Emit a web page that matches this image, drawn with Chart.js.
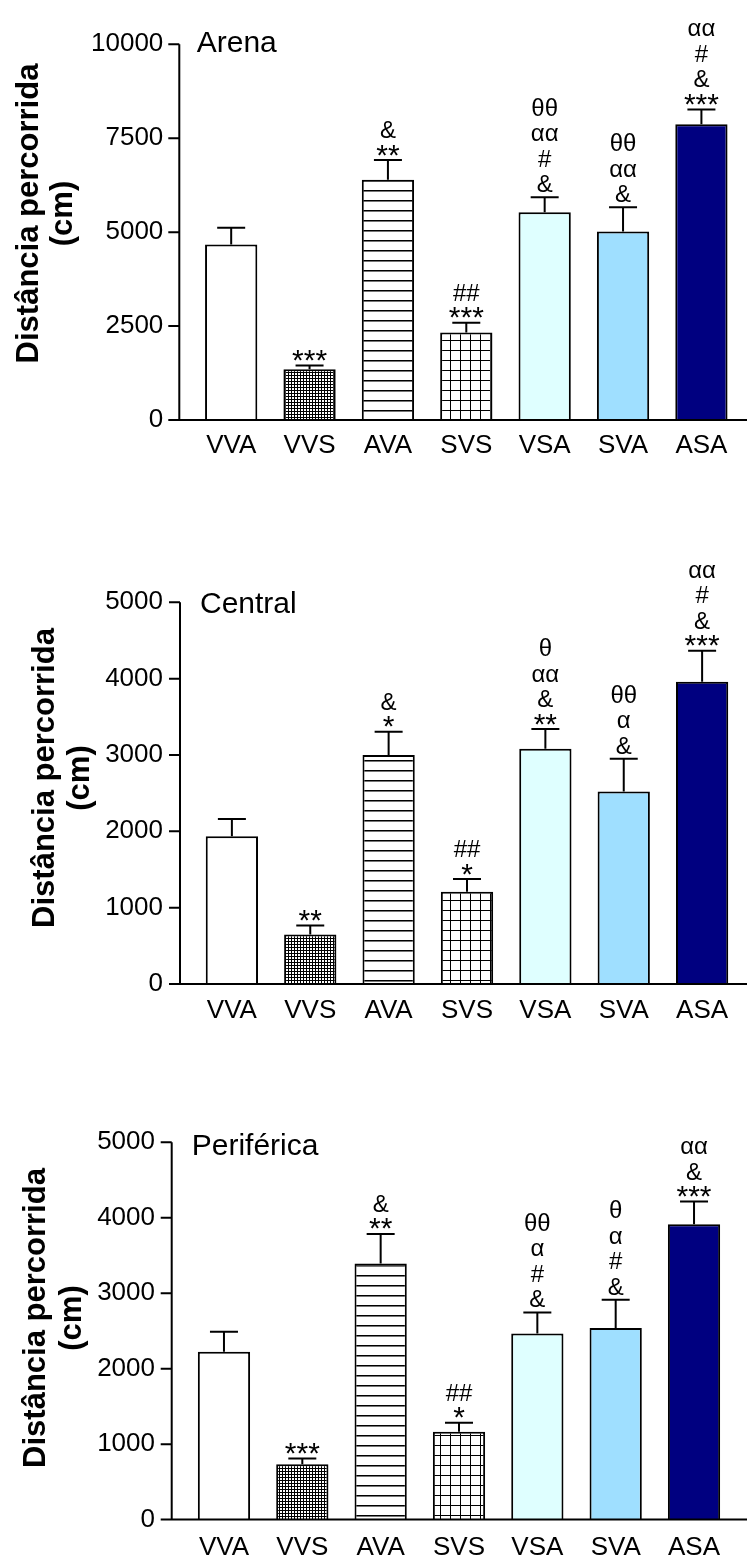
<!DOCTYPE html>
<html>
<head>
  <meta charset="UTF-8">
  <title>Distância percorrida</title>
  <script src="https://cdn.jsdelivr.net/npm/chart.js"></script>
  <style>
    body {
      margin: 0;
      background: #fff;
      width: 747px;
      height: 1565px;
      overflow: hidden;
      position: relative;
    }
    canvas.painel {
      position: absolute;
      left: 0;
    }
  </style>
</head>
<body>

  <canvas id="arena" class="painel" width="747" height="500" style="top:0px"></canvas>
  <canvas id="central" class="painel" width="747" height="510" style="top:530px"></canvas>
  <canvas id="periferica" class="painel" width="747" height="520" style="top:1045px"></canvas>

  <script>
    const grupos = ['VVA', 'VVS', 'AVA', 'SVS', 'VSA', 'SVA', 'ASA'];

    // Arena
    const arenaMedia = [4670, 1350, 6395, 2330, 5530, 5020, 7870];
    const arenaEpm   = [445, 100, 525, 260, 400, 645, 395];
    const arenaTicks = [0, 2500, 5000, 7500, 10000];
    const arenaSig = [[], ['***'], ['&', '**'], ['##', '***'], ['θθ', 'αα', '#', '&'], ['θθ', 'αα', '&'], ['αα', '#', '&', '***']];

    // Central
    const centralMedia = [1935, 650, 3000, 1210, 3080, 2520, 3960];
    const centralEpm   = [225, 115, 305, 165, 260, 430, 405];
    const centralTicks = [0, 1000, 2000, 3000, 4000, 5000];
    const centralSig = [[], ['**'], ['&', '*'], ['##', '*'], ['θ', 'αα', '&', '**'], ['θθ', 'α', '&'], ['αα', '#', '&', '***']];

    // Periférica
    const perifMedia = [2225, 735, 3395, 1165, 2465, 2540, 3915];
    const perifEpm   = [265, 75, 390, 120, 280, 375, 300];
    const perifTicks = [0, 1000, 2000, 3000, 4000, 5000];
    const perifSig = [[], ['***'], ['&', '**'], ['##', '*'], ['θθ', 'α', '#', '&'], ['θ', 'α', '#', '&'], ['αα', '&', '***']];

    const FONTE = "'Liberation Sans', Arial, sans-serif";
    Chart.defaults.font.family = FONTE;
    Chart.defaults.color = '#000';

    // hachuras das barras
    function padrao(w, h, desenha) {
      const c = document.createElement('canvas');
      c.width = w;
      c.height = h;
      const g = c.getContext('2d');
      g.fillStyle = '#fff';
      g.fillRect(0, 0, w, h);
      desenha(g);
      return g.createPattern(c, 'repeat');
    }
    const pontilhado = padrao(3, 3, g => {
      g.fillStyle = '#000';
      g.fillRect(0, 0, 3, 1);
      g.fillRect(0, 0, 1, 3);
    });
    const listrado = padrao(4, 10, g => {
      g.fillStyle = '#000';
      g.fillRect(0, 0, 4, 1);
      g.fillStyle = '#777';
      g.fillRect(0, 1, 4, 1);
    });
    const quadriculado = padrao(10, 10, g => {
      g.fillStyle = '#000';
      g.fillRect(0, 0, 10, 1);
      g.fillRect(0, 0, 1, 10);
    });
    const cores = ['#ffffff', pontilhado, listrado, quadriculado, '#dfffff', '#9fdfff', '#000080'];

    function painel(id, p) {
      const canvas = document.getElementById(id);
      const H = canvas.height;
      const local = v => v - p.top;

      const decor = {
        id: 'decor',
        afterDatasetsDraw(chart) {
          const { ctx, scales: { x, y } } = chart;
          const ax = p.axisX;
          ctx.save();
          ctx.strokeStyle = '#000';
          ctx.fillStyle = '#000';
          ctx.lineWidth = 2;

          // barras de erro e símbolos de significância
          p.media.forEach((m, i) => {
            const cx = x.getPixelForValue(i);
            const y0 = y.getPixelForValue(m);
            const y1 = y.getPixelForValue(m + p.epm[i]);
            ctx.beginPath();
            ctx.moveTo(cx, y0);
            ctx.lineTo(cx, y1);
            ctx.moveTo(cx - 14, y1);
            ctx.lineTo(cx + 14, y1);
            ctx.stroke();

            ctx.textAlign = 'center';
            ctx.textBaseline = 'alphabetic';
            let base = y1;
            p.sig[i].slice().reverse().forEach((txt, k) => {
              if (txt[0] === '*') {
                ctx.font = '30px ' + FONTE;
                ctx.fillText(txt, cx, base + 4.5);
                base -= 22;
              } else {
                ctx.font = '24px ' + FONTE;
                if (k === 0) base -= 5;
                ctx.fillText(txt, cx, base);
                base -= 25.5;
              }
            });
          });

          // eixos
          const yTopo = y.getPixelForValue(p.ticks[p.ticks.length - 1]);
          const yZero = y.getPixelForValue(0);
          ctx.beginPath();
          ctx.moveTo(ax, yTopo);
          ctx.lineTo(ax, yZero);
          p.ticks.forEach(t => {
            const ty = y.getPixelForValue(t);
            ctx.moveTo(ax - 11, ty);
            ctx.lineTo(ax, ty);
          });
          ctx.moveTo(ax - 11, yZero);
          ctx.lineTo(chart.width, yZero);
          ctx.stroke();

          // nome do painel
          ctx.font = '30px ' + FONTE;
          ctx.textAlign = 'left';
          ctx.fillText(p.nome, p.nomeX, local(p.nomeBase));

          // título do eixo y
          ctx.font = 'bold 31px ' + FONTE;
          ctx.textAlign = 'center';
          ['Distância percorrida', '(cm)'].forEach((linha, k) => {
            ctx.save();
            ctx.translate(p.tituloX[k], local(p.tituloY));
            ctx.rotate(-Math.PI / 2);
            ctx.fillText(linha, 0, 0);
            ctx.restore();
          });
          ctx.restore();
        }
      };

      return new Chart(canvas, {
        type: 'bar',
        data: {
          labels: grupos,
          datasets: [{
            data: p.media,
            backgroundColor: cores,
            borderColor: '#000',
            borderWidth: 2,
            barPercentage: 0.667,
            categoryPercentage: 1
          }]
        },
        options: {
          responsive: false,
          animation: false,
          devicePixelRatio: 1,
          layout: {
            padding: { top: local(p.yTop), right: 747 - p.right, bottom: 0, left: 0 }
          },
          plugins: {
            legend: { display: false },
            tooltip: { enabled: false }
          },
          scales: {
            x: {
              grid: { display: false, drawTicks: false },
              border: { display: false },
              ticks: { font: { size: 26 }, padding: p.xPad, color: '#000' },
              afterFit: s => { s.height = H - local(p.yZero); }
            },
            y: {
              min: 0,
              max: p.ticks[p.ticks.length - 1],
              grid: { display: false, drawTicks: false },
              border: { display: false },
              afterBuildTicks: s => { s.ticks = p.ticks.map(v => ({ value: v })); },
              ticks: {
                font: { size: 26 },
                color: '#000',
                padding: p.left - p.labelRight,
                callback: v => String(v)
              },
              afterFit: s => { s.width = p.left; }
            }
          }
        },
        plugins: [decor]
      });
    }

    painel('arena', {
      top: 0, media: arenaMedia, epm: arenaEpm, ticks: arenaTicks, sig: arenaSig,
      axisX: 179.3, yTop: 35, yZero: 420, left: 192, right: 740.6, labelRight: 163.3, xPad: 10.7,
      nome: 'Arena', nomeX: 196.7, nomeBase: 52.3, tituloX: [37.6, 71.5], tituloY: 213.5
    });

    painel('central', {
      top: 530, media: centralMedia, epm: centralEpm, ticks: centralTicks, sig: centralSig,
      axisX: 180, yTop: 602.3, yZero: 984, left: 192.7, right: 741.3, labelRight: 163, xPad: 11,
      nome: 'Central', nomeX: 200, nomeBase: 613.3, tituloX: [53.5, 88.5], tituloY: 778
    });

    painel('periferica', {
      top: 1045, media: perifMedia, epm: perifEpm, ticks: perifTicks, sig: perifSig,
      axisX: 171.7, yTop: 1142.3, yZero: 1526, left: 184.8, right: 733.2, labelRight: 155, xPad: 13,
      nome: 'Periférica', nomeX: 191.7, nomeBase: 1155, tituloX: [45, 80.5], tituloY: 1318
    });
  </script>

</body>
</html>
